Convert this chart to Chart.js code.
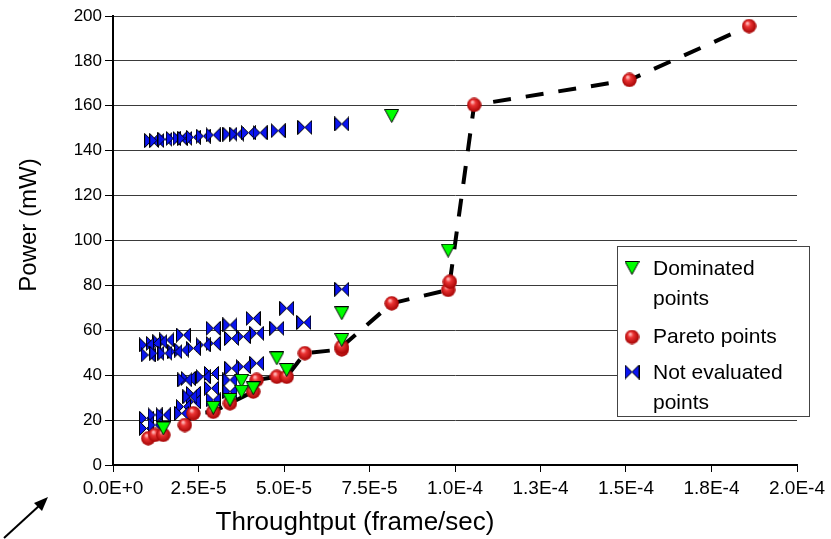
<!DOCTYPE html>
<html>
<head>
<meta charset="utf-8">
<script src="https://cdn.jsdelivr.net/npm/chart.js@4.4.0/dist/chart.umd.min.js"></script>
<style>
html,body{margin:0;padding:0;background:#fff;}
</style>
</head>
<body>
<canvas id="myChart" width="831" height="539"></canvas>
<script>

// axis ticks
var xTickValues = [0, 2.5e-5, 5.0e-5, 7.5e-5, 1.0e-4, 1.25e-4, 1.5e-4, 1.75e-4, 2.0e-4];
var xTickLabels = ['0.0E+0', '2.5E-5', '5.0E-5', '7.5E-5', '1.0E-4', '1.3E-4', '1.5E-4', '1.8E-4', '2.0E-4'];

// Pareto points (joined by the dashed line)
var paretoX = [1.03e-5, 1.23e-5, 1.47e-5, 2.10e-5, 2.35e-5, 2.93e-5, 3.42e-5, 4.10e-5, 4.20e-5, 4.79e-5, 5.08e-5, 5.61e-5, 6.69e-5, 6.69e-5, 8.15e-5, 9.80e-5, 9.85e-5, 10.56e-5, 15.1e-5, 18.6e-5];
var paretoY = [11.9, 13.4, 13.4, 17.8, 23.0, 23.7, 27.5, 32.7, 37.9, 39.3, 39.3, 49.8, 51.5, 52.7, 72, 78, 81.6, 160.4, 171.5, 195.5];

// Dominated points
var domX = [1.47e-5, 2.93e-5, 3.42e-5, 3.76e-5, 3.76e-5, 4.10e-5, 4.79e-5, 5.08e-5, 6.69e-5, 6.69e-5, 8.15e-5, 9.80e-5];
var domY = [16.3, 25.5, 29, 37.5, 32.7, 34.2, 47.5, 42.3, 67.6, 55.7, 155.5, 95.5];

// Not evaluated points
var notEvalX = [
  1.13e-5, 1.28e-5, 1.52e-5, 1.76e-5, 1.96e-5, 2.10e-5, 2.35e-5, 2.64e-5, 2.93e-5, 3.42e-5, 3.62e-5, 3.96e-5, 4.30e-5, 4.83e-5, 5.61e-5, 6.69e-5,
  6.69e-5, 5.08e-5, 4.10e-5, 3.42e-5, 2.93e-5, 2.06e-5, 5.58e-5, 4.79e-5, 4.20e-5, 3.81e-5, 3.47e-5, 2.93e-5, 2.64e-5, 2.35e-5, 2.01e-5, 1.81e-5,
  1.57e-5, 1.37e-5, 1.18e-5, 0.98e-5, 1.03e-5, 1.28e-5, 1.52e-5,
  4.20e-5, 3.81e-5, 3.47e-5, 2.88e-5, 2.64e-5, 2.20e-5, 2.10e-5, 2.88e-5, 3.42e-5, 3.42e-5, 2.35e-5, 2.35e-5, 2.06e-5, 2.93e-5, 2.25e-5, 2.01e-5,
  0.98e-5, 1.23e-5, 1.47e-5, 0.98e-5, 1.23e-5
];
var notEvalY = [
  144.5, 144.5, 145.1, 145.5, 145.5, 145.5, 146, 146.5, 147, 147.4, 147.4, 148, 148, 148.9, 150.4, 151.9,
  78.3, 69.8, 65.3, 62.4, 60.9, 57.9, 63.5, 60.9, 58.7, 57.2, 56.4, 54.2, 53.5, 52, 51.2, 50.5,
  55.7, 54.9, 54.2, 53.5, 49, 49.8, 49.8,
  45.3, 43.8, 43.1, 40.8, 39.3, 38.6, 37.9, 34.2, 37.9, 32.7, 31.9, 28.2, 26, 29, 30.4, 23,
  20.8, 22.3, 22.3, 16.3, 17.8
];

function pts(xs, ys) {
  var out = [];
  for (var i = 0; i < xs.length; i++) out.push({x: xs[i], y: ys[i]});
  return out;
}

// marker pictures
function makeBall(d) {
  var c = document.createElement('canvas');
  c.width = d; c.height = d;
  var g = c.getContext('2d');
  var r = d / 2;
  var grad = g.createRadialGradient(r * 0.75, r * 0.6, r * 0.1, r, r, r);
  grad.addColorStop(0, '#ffb8b8');
  grad.addColorStop(0.3, '#ec3434');
  grad.addColorStop(1, '#a00000');
  g.fillStyle = grad;
  g.beginPath();
  g.arc(r, r, r - 0.3, 0, Math.PI * 2);
  g.fill();
  return c;
}
function makeBowtie(w, h) {
  var c = document.createElement('canvas');
  c.width = w; c.height = h;
  var g = c.getContext('2d');
  g.beginPath();
  g.moveTo(0.5, 0.5); g.lineTo(w / 2, h / 2); g.lineTo(0.5, h - 0.5); g.closePath();
  g.moveTo(w - 0.5, 0.5); g.lineTo(w / 2, h / 2); g.lineTo(w - 0.5, h - 0.5); g.closePath();
  g.fillStyle = '#0a14f0';
  g.fill();
  g.strokeStyle = '#000';
  g.lineWidth = 1;
  g.stroke();
  return c;
}
function makeTriangle(w, h) {
  var c = document.createElement('canvas');
  c.width = w; c.height = h;
  var g = c.getContext('2d');
  g.beginPath();
  g.moveTo(0.5, 0.5); g.lineTo(w - 0.5, 0.5); g.lineTo(w / 2, h - 0.5); g.closePath();
  g.fillStyle = '#00ff00';
  g.fill();
  g.strokeStyle = '#000';
  g.lineWidth = 1;
  g.stroke();
  return c;
}

var ball = makeBall(15);
var bowtie = makeBowtie(15, 15);
var tri = makeTriangle(15, 14);

var extras = {
  id: 'extras',
  afterDraw: function(chart) {
    var ctx = chart.ctx;
    ctx.save();
    // axis titles
    ctx.fillStyle = '#000';
    ctx.font = '26px "Liberation Sans", Arial, sans-serif';
    ctx.textAlign = 'center';
    ctx.textBaseline = 'middle';
    ctx.fillText('Throughtput (frame/sec)', 355, 523);
    ctx.save();
    ctx.translate(29, 225);
    ctx.rotate(-Math.PI / 2);
    ctx.font = '24px "Liberation Sans", Arial, sans-serif';
    ctx.fillText('Power (mW)', 0, 0);
    ctx.restore();

    // arrow bottom left
    ctx.strokeStyle = '#000';
    ctx.lineWidth = 2;
    ctx.beginPath();
    ctx.moveTo(4, 538);
    ctx.lineTo(40, 505);
    ctx.stroke();
    ctx.beginPath();
    ctx.moveTo(48, 497);
    ctx.lineTo(34, 503);
    ctx.lineTo(42, 511);
    ctx.closePath();
    ctx.fillStyle = '#000';
    ctx.fill();

    // legend box
    ctx.fillStyle = '#fff';
    ctx.fillRect(617, 246, 192, 170);
    ctx.strokeStyle = '#444';
    ctx.lineWidth = 1;
    ctx.strokeRect(617.5, 246.5, 192, 170);
    ctx.drawImage(tri, 632 - 7.5, 268 - 7);
    ctx.drawImage(ball, 632 - 7.5, 337 - 7.5);
    ctx.drawImage(bowtie, 632 - 7.5, 372 - 7.5);
    ctx.fillStyle = '#000';
    ctx.font = '21px "Liberation Sans", Arial, sans-serif';
    ctx.textAlign = 'left';
    ctx.fillText('Dominated', 653, 269);
    ctx.fillText('points', 653, 299);
    ctx.fillText('Pareto points', 653, 337);
    ctx.fillText('Not evaluated', 653, 373);
    ctx.fillText('points', 653, 403);
    ctx.restore();
  }
};

var ctx = document.getElementById('myChart').getContext('2d');
var myChart = new Chart(ctx, {
  type: 'scatter',
  data: {
    datasets: [
      {
        label: 'Dominated points',
        data: pts(domX, domY),
        pointStyle: tri,
        showLine: false
      },
      {
        label: 'Pareto points',
        data: pts(paretoX, paretoY),
        pointStyle: ball,
        showLine: true,
        borderColor: '#000',
        borderWidth: 4,
        borderDash: [18, 15],
        tension: 0
      },
      {
        label: 'Not evaluated points',
        data: pts(notEvalX, notEvalY),
        pointStyle: bowtie,
        showLine: false
      }
    ]
  },
  options: {
    responsive: false,
    animation: false,
    events: [],
    layout: {padding: {top: 16, right: 34, left: 0, bottom: 0}},
    plugins: {
      legend: {display: false},
      tooltip: {enabled: false}
    },
    scales: {
      x: {
        type: 'linear',
        min: 0,
        max: 2e-4,
        afterBuildTicks: function(scale) {
          scale.ticks = xTickValues.map(function(v) { return {value: v}; });
        },
        afterFit: function(scale) { scale.height = 74; },
        ticks: {
          color: '#000',
          maxRotation: 0,
          autoSkip: false,
          padding: 5,
          font: {family: '"Liberation Sans Narrow", "Liberation Sans", Arial, sans-serif', size: 19},
          callback: function(v, i) { return xTickLabels[i]; }
        },
        grid: {drawOnChartArea: false, drawTicks: true, tickLength: 7, color: '#000'},
        border: {color: '#000', width: 2}
      },
      y: {
        min: 0,
        max: 200,
        afterFit: function(scale) { scale.width = 113; },
        ticks: {
          stepSize: 20,
          color: '#000',
          padding: 3,
          font: {family: '"Liberation Sans", Arial, sans-serif', size: 17}
        },
        grid: {color: '#3a3a3a', tickLength: 8, tickColor: '#000'},
        border: {color: '#000', width: 2}
      }
    }
  },
  plugins: [extras]
});
</script>
</body>
</html>
